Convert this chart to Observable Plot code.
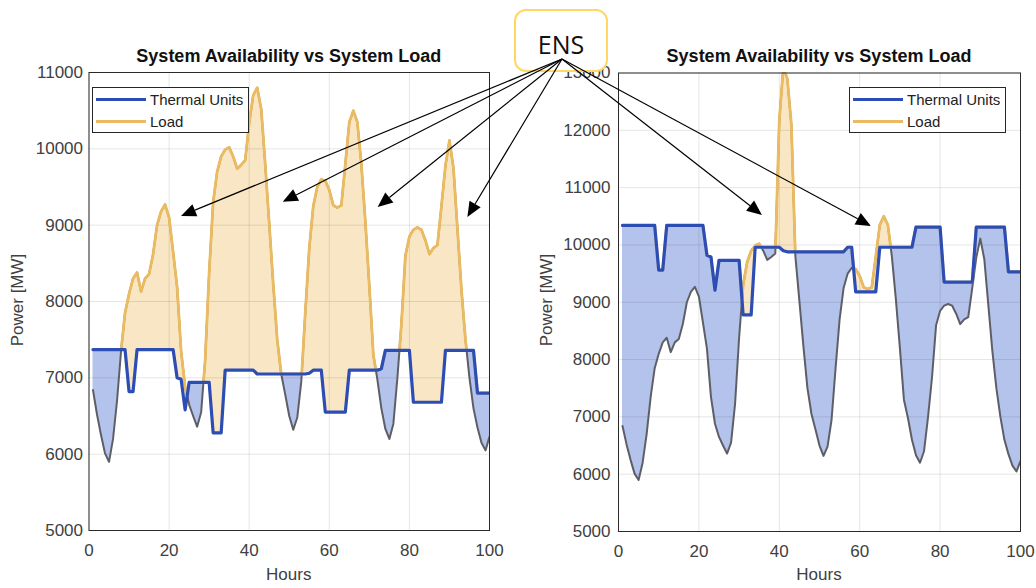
<!DOCTYPE html>
<html>
<head>
<meta charset="utf-8">
<script src="https://cdn.jsdelivr.net/npm/d3@7"></script>
<script src="https://cdn.jsdelivr.net/npm/@observablehq/plot@0.6"></script>
<style>
  html, body { margin: 0; padding: 0; background: #fff; }
  body { font-family: "Liberation Sans", Arial, sans-serif; }
  #page { position: relative; width: 1036px; height: 588px; overflow: hidden; background: #fff; }
  .panel { position: absolute; top: 0; }
  .title { position: absolute; font-weight: bold; font-size: 18px; line-height: 20px; color: #111;
           white-space: nowrap; transform: translateX(-50%); }
  .xlabel { position: absolute; font-size: 17px; line-height: 20px; color: #404040; white-space: nowrap;
            transform: translateX(-50%); }
  .ylabel { position: absolute; font-size: 17px; line-height: 20px; color: #404040; white-space: nowrap;
            transform: translate(-50%, -50%) rotate(-90deg); }
  .legend { position: absolute; }
  #ens { position: absolute; left: 514px; top: 9px; width: 94px; height: 63px; box-sizing: border-box;
         border: 2px solid #ffd766; border-radius: 12px; background: #fff;
         display: flex; align-items: center; justify-content: center; padding-top: 6px;
         font-family: "Open Sans", "Liberation Sans", sans-serif; font-size: 25px; color: #111; }
  #arrows { position: absolute; left: 0; top: 0; pointer-events: none; }
</style>
</head>
<body>
<div id="page"></div>
<script>
// ---------------- data ----------------
const hours = Array.from({length: 100}, (_, i) => i + 1);

const load = [
  6840, 6520, 6250, 6010, 5900, 6200, 6700, 7350, 7850, 8100,
  8300, 8380, 8130, 8300, 8360, 8620, 9000, 9180, 9270, 9100,
  8650, 8190, 7350, 6880, 6650, 6500, 6360, 6550, 7230, 8380,
  9300, 9700, 9900, 9990, 10020, 9900, 9740, 9790, 9850, 10340,
  10700, 10800, 10520, 9800, 9020, 8230, 7500, 7050, 6780, 6500,
  6320, 6480, 6950, 7850, 8700, 9250, 9500, 9600, 9580, 9460,
  9260, 9230, 9260, 9800, 10350, 10500, 10350, 9800, 9050, 8200,
  7300, 6980, 6600, 6330, 6200, 6400, 7000, 7700, 8600, 8850,
  8940, 8970, 8940, 8800, 8620, 8700, 8740, 9250, 9780, 10110,
  9750, 8950, 8150, 7500, 7000, 6600, 6350, 6150, 6050, 6230
];

// right panel: load differs only during the hours 40-43 spike
const spikeHours = [40, 41, 42, 43];
const spikeLoad = [12170, 13100, 12900, 12100];

const thermalLeft = [
  7370, 7370, 7370, 7370, 7370, 7370, 7370, 7370, 7370, 6820,
  6820, 7370, 7370, 7370, 7370, 7370, 7370, 7370, 7370, 7370,
  7370, 7000, 6980, 6580, 6940, 6940, 6940, 6940, 6940, 6940,
  6280, 6280, 6280, 7100, 7100, 7100, 7100, 7100, 7100, 7100,
  7100, 7050, 7050, 7050, 7050, 7050, 7050, 7050, 7050, 7050,
  7050, 7050, 7050, 7050, 7060, 7100, 7100, 7100, 6550, 6550,
  6550, 6550, 6550, 6550, 7100, 7100, 7100, 7100, 7100, 7100,
  7100, 7100, 7120, 7360, 7360, 7360, 7360, 7360, 7360, 7360,
  6680, 6680, 6680, 6680, 6680, 6680, 6680, 6680, 7360, 7360,
  7360, 7360, 7360, 7360, 7360, 7360, 6800, 6800, 6800, 6800
];

const thermalRight = [
  10340, 10340, 10340, 10340, 10340, 10340, 10340, 10340, 10340, 9560,
  9560, 10340, 10340, 10340, 10340, 10340, 10340, 10340, 10340, 10340,
  10340, 9820, 9790, 9210, 9730, 9730, 9730, 9730, 9730, 9730,
  8780, 8780, 8780, 9960, 9960, 9960, 9960, 9960, 9960, 9960,
  9900, 9880, 9880, 9880, 9880, 9880, 9880, 9880, 9880, 9880,
  9880, 9880, 9880, 9880, 9880, 9880, 9960, 9960, 9180, 9180,
  9180, 9180, 9180, 9180, 9960, 9960, 9960, 9960, 9960, 9960,
  9960, 9960, 9960, 10310, 10310, 10310, 10310, 10310, 10310, 10310,
  9350, 9350, 9350, 9350, 9350, 9350, 9350, 9350, 10310, 10310,
  10310, 10310, 10310, 10310, 10310, 10310, 9530, 9530, 9530, 9530
];

const xTicks = [0, 20, 40, 60, 80, 100];
const yTicksLeft = [5000, 6000, 7000, 8000, 9000, 10000, 11000];
const yTicksRight = [5000, 6000, 7000, 8000, 9000, 10000, 11000, 12000, 13000];
const seriesNames = ["Thermal Units", "Load"];
const titleText = "System Availability vs System Load";
const xLabel = "Hours";
const yLabel = "Power [MW]";
const ensLabel = "ENS";
// ENS arrow targets in data coordinates [hour, MW]
const ensLeft = [[23.1, 9115], [48.5, 9299], [72.2, 9233], [94.6, 9102]];
const ensRight = [[35.8, 10515], [62.9, 10323]];

const loadRight = load.map((v, i) => {
  const k = spikeHours.indexOf(hours[i]);
  return k >= 0 ? spikeLoad[k] : v;
});

// ---------------- helpers ----------------
const C = {
  yellowFill: "#f9e6c4", blueFill: "#b4c3eb",
  yellowLine: "#eabb60", blueLine: "#2c4db4", grayLine: "#5d5e66"
};

function buildPoints(loadv, thermal) {
  const pts = [];
  for (let i = 0; i < hours.length; i++) {
    const h = hours[i], L = loadv[i], T = thermal[i];
    pts.push({h, L, T});
    if (i < hours.length - 1) {
      const d0 = L - T, d1 = loadv[i + 1] - thermal[i + 1];
      if (d0 * d1 < 0) {
        const t = d0 / (d0 - d1);
        pts.push({h: h + t, L: L + t * (loadv[i + 1] - L), T: T + t * (thermal[i + 1] - T)});
      }
    }
  }
  return pts;
}

function makePanel(o) {
  const pts = buildPoints(o.load, o.thermal);
  const hi = d => Math.max(d.L, d.T), lo = d => Math.min(d.L, d.T);
  return Plot.plot({
    width: o.width, height: 588,
    marginLeft: o.ml, marginRight: o.mr, marginTop: o.mt, marginBottom: o.mb,
    style: {fontFamily: "Liberation Sans, Arial, sans-serif", fontSize: "17px", color: "#404040",
            background: "transparent", overflow: "visible"},
    x: {domain: [0, 100]},
    y: {domain: [o.yTicks[0], o.yTicks[o.yTicks.length - 1]]},
    marks: [
      Plot.areaY(pts, {x: "h", y1: "T", y2: hi, fill: C.yellowFill, clip: true}),
      Plot.areaY(pts, {x: "h", y1: lo, y2: "T", fill: C.blueFill, clip: true}),
      Plot.gridX(xTicks, {stroke: "#000", strokeOpacity: 0.1}),
      Plot.gridY(o.yTicks, {stroke: "#000", strokeOpacity: 0.1}),
      Plot.line(pts, {x: "h", y: "L", stroke: C.grayLine, strokeWidth: 2, clip: true}),
      Plot.line(pts, {x: "h", y: hi, stroke: C.yellowLine, strokeWidth: 2.8, clip: true}),
      Plot.line(pts, {x: "h", y: "T", stroke: C.blueLine, strokeWidth: 3.2, clip: true}),
      Plot.frame({stroke: "#2a2a2a", strokeWidth: 1}),
      Plot.axisX({ticks: xTicks, tickSize: 0, tickPadding: 13, label: null, tickFormat: d => String(d)}),
      Plot.axisY({ticks: o.yTicks, tickSize: 0, tickPadding: o.tp, label: null, tickFormat: d => String(d)})
    ]
  });
}

const page = document.getElementById("page");

function addDiv(cls, text, left, top) {
  const d = document.createElement("div");
  d.className = cls;
  d.textContent = text;
  d.style.left = left + "px";
  d.style.top = top + "px";
  page.appendChild(d);
  return d;
}

function addLegend(left, top) {
  const w = 157, h = 46;
  const svg = d3.create("svg").attr("class", "legend").attr("width", w).attr("height", h)
    .style("left", left + "px").style("top", top + "px");
  svg.append("rect").attr("x", 0.5).attr("y", 0.5).attr("width", w - 1).attr("height", h - 1)
    .attr("fill", "#fff").attr("stroke", "#262626").attr("stroke-width", 1);
  const colors = [C.blueLine, C.yellowLine];
  seriesNames.forEach((name, i) => {
    const y = 12.5 + i * 22;
    svg.append("line").attr("x1", 4).attr("x2", 54).attr("y1", y).attr("y2", y)
      .attr("stroke", colors[i]).attr("stroke-width", 3.2);
    svg.append("text").attr("x", 58).attr("y", y).attr("dy", "0.35em")
      .attr("font-family", "Liberation Sans, Arial, sans-serif").attr("font-size", 15)
      .attr("fill", "#222").text(name);
  });
  page.appendChild(svg.node());
}

// ---------------- panels ----------------
const L = {left: 0, width: 518, ml: 88.5, mr: 29, mt: 72, mb: 58, tp: 6};
const R = {left: 518, width: 518, ml: 100, mr: 16, mt: 72.5, mb: 57, tp: 8};

const plotL = makePanel({...L, load: load, thermal: thermalLeft, yTicks: yTicksLeft});
const plotR = makePanel({...R, load: loadRight, thermal: thermalRight, yTicks: yTicksRight});

[[plotL, L], [plotR, R]].forEach(([p, g]) => {
  const wrap = document.createElement("div");
  wrap.className = "panel";
  wrap.style.left = g.left + "px";
  wrap.appendChild(p);
  page.appendChild(wrap);
  const cx = g.left + g.ml + (g.width - g.ml - g.mr) / 2;
  addDiv("title", titleText, cx, 46);
  addDiv("xlabel", xLabel, cx, 565);
});
addDiv("ylabel", yLabel, 18, 300);
addDiv("ylabel", yLabel, 547, 300);

addLegend(92, 87);
addLegend(849, 87);

// ENS box
const ens = document.createElement("div");
ens.id = "ens";
ens.textContent = ensLabel;
page.appendChild(ens);

// arrows
const ox = 562, oy = 59;
const svgA = d3.create("svg").attr("id", "arrows").attr("width", 1036).attr("height", 588);
function arrow(plot, g, h, v) {
  const tx = g.left + plot.scale("x").apply(h);
  const ty = plot.scale("y").apply(v);
  const dx = tx - ox, dy = ty - oy, len = Math.hypot(dx, dy);
  const ux = dx / len, uy = dy / len, nx = -uy, ny = ux;
  const hl = 15, hw = 6.5;
  const bx = tx - ux * hl, by = ty - uy * hl;
  svgA.append("line").attr("x1", ox).attr("y1", oy).attr("x2", bx).attr("y2", by)
    .attr("stroke", "#000").attr("stroke-width", 1.2);
  svgA.append("polygon")
    .attr("points", `${tx},${ty} ${bx + nx * hw},${by + ny * hw} ${bx - nx * hw},${by - ny * hw}`)
    .attr("fill", "#000");
}
ensLeft.forEach(([h, v]) => arrow(plotL, L, h, v));
ensRight.forEach(([h, v]) => arrow(plotR, R, h, v));
page.appendChild(svgA.node());
</script>
</body>
</html>
